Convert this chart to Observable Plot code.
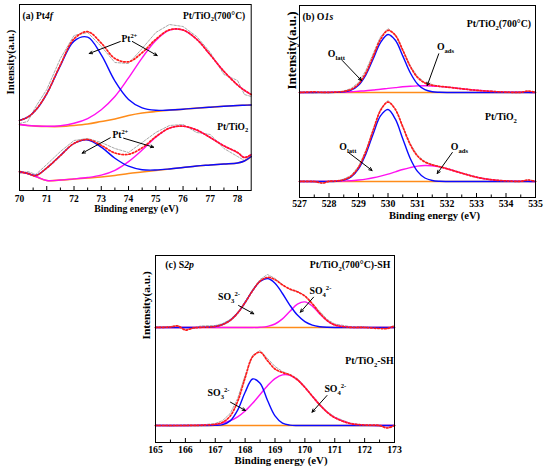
<!DOCTYPE html>
<html>
<head>
<meta charset="utf-8">
<script src="https://cdn.jsdelivr.net/npm/d3@7"></script>
<script src="https://cdn.jsdelivr.net/npm/@observablehq/plot@0.6"></script>
<style>
  html, body { margin: 0; padding: 0; background: #fff; }
  #wrap { position: relative; width: 550px; height: 469px; background: #fff; overflow: hidden; }
  #wrap > div { position: absolute; }
  #wrap svg { overflow: visible; font-family: 'Liberation Serif', 'Times New Roman', serif !important; }
  #wrap svg text, #wrap svg g { font-family: 'Liberation Serif', 'Times New Roman', serif !important; }
</style>
</head>
<body>
<div id="wrap">
  <div id="pa" style="left:0px;top:0px"></div>
  <div id="pb" style="left:275px;top:0px"></div>
  <div id="pc" style="left:130px;top:240px"></div>
</div>
<script>
// ---------- Panel (a) Pt4f ----------
const xA = [70,70.3,70.6,71,71.5,72,72.5,73,73.5,74,74.5,75,75.5,76,76.5,77,77.5,78,78.25,78.5];
const aBgUp   = [66,65,64.4,64,64,65,66.5,69,71.5,75,77.5,79,80.3,81.3,82.4,83.3,84.2,85,85.3,85.5];
const aBlueUp = [70,73.3,80.5,96.7,124.9,149.4,153.4,135.6,109.5,91.1,82.6,80.2,80.5,81.3,82.4,83.3,84.2,85,85.3,85.5];
const aMagUp  = [66,65,64.5,64.2,64.8,67.2,71.9,80.8,94,112.6,132.7,150,160.4,160.5,151.2,135.6,119.1,105.5,100.2,96];
const aFitUp  = [70,73.3,80.6,96.9,125.7,151.6,158.8,147.4,132,128.7,137.8,151.2,160.6,160.5,151.2,135.6,119.1,105.5,100.2,96];
const aRawUp  = [67,69,84,101,132,155,158,144,128,127,142,158,166,164,154,138,116,110,96,94];
const aBgLo   = [18.5,17,14,10,10.5,11.5,12.5,13.5,15,17,18.5,20,21.5,23,24.5,25.5,26.5,27.5,29.5,34];
const aBlueLo = [19,17,15,22.5,34.9,47,50.5,43.4,32.3,24.3,20.8,20.5,21.5,23,24.5,25.5,26.5,27.5,29.5,34];
const aMagLo  = [18.5,17,14,10,10.5,11.6,13,15.4,20.2,28.9,40.5,53.3,62.4,64.3,60.5,52.9,44.6,38,33,36];
const aFitLo  = [19,17,15,22.5,34.9,47.1,51,45.2,37.5,36.2,42.7,53.8,62.4,64.3,60.5,52.9,44.6,38,33,36];
const aRawLo  = [17,19,16,26,39,50,52,48,42,38,48,58,65,66,58,56,42,34,30,36];
const aMajor = [70,71,72,73,74,75,76,77,78];
const aMinor = [70.5,71.5,72.5,73.5,74.5,75.5,76.5,77.5];
const aLabStart = ["(a) Pt~{4f}"], aLabStartX = [70.11], aLabStartY = [175];
const aLabEnd = ["Pt/TiO_{2}(700°C)", "Pt/TiO_{2}"], aLabEndX = [78.28, 78.39], aLabEndY = [175, 64];
const aLabMid = ["Pt^{2+}", "Pt^{2+}"], aLabMidX = [74.03, 73.70], aLabMidY = [152, 56];
const aArX1 = [73.70, 74.14, 73.33, 73.82], aArY1 = [149, 149, 52.7, 52.3];
const aArX2 = [72.56, 75.05, 72.30, 74.92], aArY2 = [137, 135, 37.3, 43.3];

// ---------- Panel (b) O1s ----------
const xB = [527,527.5,527.8,528,528.25,528.5,528.75,529,529.25,529.5,529.75,530,530.25,530.5,530.75,531,531.25,531.5,531.75,532,532.5,533,533.5,534,534.5,534.75,535];
const bBgUp   = [105,105,105,105,105,105,105,105,105,105,105,105,105,105,105,105,105,105,105,105,105,105,105,105,105,105,105];
const bBlueUp = [105,105,105,105,105.1,105.6,107.3,112.2,122.7,138.8,155.1,163,157.2,141.6,125,113.5,107.8,105.7,105.2,105,105,105,105,105,105,105,105];
const bMagUp  = [105,105.1,105.1,105.2,105.3,105.5,105.8,106.3,106.8,107.5,108.2,109.1,109.9,110.7,111.3,111.6,111.7,111.5,111,110.4,108.7,107.2,106.1,105.4,105.2,105.1,105];
const bFitUp  = [105,105.6,105.1,105.2,105.4,106.1,108.1,113.5,124.5,141.3,158.3,167.1,162.1,147.3,131.3,120.1,114.5,112.2,111.2,110.4,108.7,107.2,106.1,105.4,105.2,106.5,105];
const bRawUp  = [105.5,104.5,105.5,105,105.5,106.5,109,115,127,144,161,169,163,148,132,121,115,113,111,110.5,109,107,106.5,105,105.5,106,105.5];
const bBgLo   = [16,16,16,16,16,16,16,16,16,16,16,16,16,16,16,16,16,16,16,16,16,16,16,16,16,16,16];
const bBlueLo = [16,16,16,16,16.3,17.3,20.6,28.6,43.6,63.8,81.8,88,78.3,58.8,39.3,26.1,19.5,17,16.2,16,16,16,16,16,16,16,16];
const bMagLo  = [16,16,16.1,16.1,16.2,16.5,16.8,17.5,18.4,19.7,21.4,23.4,25.7,28,29.9,31.4,32,31.7,30.6,28.8,24.3,20.3,17.8,16.6,16.2,16.1,16];
const bFitLo  = [16,16,14.5,16.2,16.5,17.8,21.4,30.1,46,67.5,87.2,95.4,88,70.8,53.2,41.5,35.5,32.7,30.8,28.8,24.3,20.3,17.8,16.6,16.2,17.5,16];
const bRawLo  = [16.5,15.5,14,16.5,16,18.5,22,31,47,68,89,97,89,71,54,42,36,33,31,29,24.5,20.5,18,16.5,16,17.5,16.5];
const bMajor = [527,528,529,530,531,532,533,534,535];
const bMinor = [527.5,528.5,529.5,530.5,531.5,532.5,533.5,534.5];
const bLabStart = ["(b) O~{1s}"], bLabStartX = [527.1], bLabStartY = [180.3];
const bLabEnd = ["Pt/TiO_{2}(700°C)", "Pt/TiO_{2}"], bLabEndX = [534.85, 534.37], bLabEndY = [173.7, 80.3];
const bLabMid = ["O_{latt}", "O_{ads}", "O_{latt}", "O_{ads}"], bLabMidX = [528.25, 531.95, 528.64, 532.42], bLabMidY = [143.7, 150.3, 51, 51];
const bArX1 = [528.45, 531.72, 528.66, 532.18], bArY1 = [137, 143.7, 45, 45];
const bArX2 = [529.1, 531.33, 529.46, 531.67], bArY2 = [117, 112, 27, 24];

// ---------- Panel (c) S2p ----------
const xC = [165,165.5,165.75,166,166.25,166.5,167,167.25,167.5,167.75,168,168.25,168.5,168.75,169,169.25,169.5,169.75,170,170.25,170.5,170.75,171,171.5,172,172.5,172.75,173];
const cBgUp   = [115,115,115,115,115,115,115,115,115,115,115,115,115,115,115,115,115,115,115,115,115,115,115,115,115,115,115,115];
const cBlueUp = [115,115,115,115,115,115.1,116,118,122.1,129.5,140,151.8,161,164,159.3,149,137.2,127.4,120.8,117.3,115.8,115.2,115,115,115,115,115,115];
const cMagUp  = [115,115,115,115,115,115,115,115,115,115,115,115,115.3,116.1,118.5,123.6,131.2,138.3,140.6,136.4,128.6,121.6,117.5,115.2,115,115,115,115];
const cFitUp  = [115,115.5,116.5,112.5,114.5,115.1,116,118,122.1,129.5,140,151.8,161.3,165.1,162.8,157.6,153.4,150.7,146.4,138.7,129.4,121.8,117.6,115.2,115,114,114,116.5];
const cRawUp  = [115.5,116,117,113,114,116.5,117,119,123,130,141,153,163,168,164,158,153,151,147,139,131,123,118.5,116,115.5,114.5,114,117];
const cBgLo   = [17,17,17,17,17,17,17,17,17,17,17,17,17,17,17,17,17,17,17,17,17,17,17,17,17,17,17,17];
const cBlueLo = [17,17,17,17,17,17,17.1,17.9,21.6,32.4,50.2,63.5,59.3,42,26.6,19.4,17.4,17,17,17,17,17,17,17,17,17,17,17];
const cMagLo  = [17,17,17,17,17.1,17.2,18.1,19.4,21.8,25.7,31.5,39.2,48,56.8,63.9,67.6,67.2,62.7,55.1,46.2,37.5,30.2,24.8,19.1,17.4,17,17,17];
const cFitLo  = [17,17,17,17,17.1,17.2,18.2,20.3,26.4,41.1,64.7,85.7,90.3,81.8,73.5,70,67.6,62.7,55.1,46.2,37.5,30.2,24.8,19.1,17.4,17,14.5,17];
const cRawLo  = [17.5,16.5,17,17.5,17,17.5,19,22,29,44,67,87,92,84,76,71,68,64,56,47,38.5,31,25.5,19.5,17.5,16.5,15,17.5];
const cMajor = [165,166,167,168,169,170,171,172,173];
const cMinor = [165.5,166.5,167.5,168.5,169.5,170.5,171.5,172.5];
const cLabStart = ["(c) S~{2p}"], cLabStartX = [165.33], cLabStartY = [178];
const cLabEnd = ["Pt/TiO_{2}(700°C)-SH", "Pt/TiO_{2}-SH"], cLabEndX = [172.86, 172.97], cLabEndY = [178, 82];
const cLabMid = ["SO_{3}^{2-}", "SO_{4}^{2-}", "SO_{3}^{2-}", "SO_{4}^{2-}"], cLabMidX = [167.46, 170.52, 167.11, 171.02], cLabMidY = [145.3, 152, 49.5, 53.7];
const cArX1 = [167.78, 170.29, 167.51, 170.74], cArY1 = [137, 145.3, 40.3, 47];
const cArX2 = [168.29, 169.85, 168.01, 170.24], cArY2 = [128.7, 130.3, 32, 30.3];

// ---------- drawing ----------
const FONT = "Liberation Serif";
const COL = {blue: "#0a0aff", mag: "#ff10f0", bg: "#ff8c1a", fit: "#ff1a1a", raw: "#a8a8a8"};

function spectrumMarks(xs, s) {
  return [
    Plot.line(s.raw, {x: xs, y: s.raw, stroke: COL.raw, strokeWidth: 1, strokeDasharray: "2.5 1.5"}),
    Plot.line(s.bg, {x: xs, y: s.bg, stroke: COL.bg, strokeWidth: 1.6, curve: "catmull-rom"}),
    Plot.line(s.mag, {x: xs, y: s.mag, stroke: COL.mag, strokeWidth: 1.4, curve: "catmull-rom"}),
    Plot.line(s.blue, {x: xs, y: s.blue, stroke: COL.blue, strokeWidth: 1.4, curve: "catmull-rom"}),
    Plot.line(s.fit, {x: xs, y: s.fit, stroke: COL.fit, strokeWidth: 1.7, strokeDasharray: "1.6 1.9", curve: "catmull-rom"})
  ];
}

function panel(o) {
  const H = o.height - o.mt - o.mb;
  const marks = [
    ...spectrumMarks(o.xs, o.upper),
    ...spectrumMarks(o.xs, o.lower),
    Plot.ruleX(o.major, {x: d => d, y1: 0, y2: 4, stroke: "black", strokeWidth: 1}),
    Plot.ruleX(o.minor, {x: d => d, y1: 0, y2: 2.5, stroke: "black", strokeWidth: 1}),
    Plot.axisX({ticks: o.major, tickSize: 0, tickPadding: o.tickPad, label: null, fontSize: o.tickFont, fontWeight: "bold", fontFamily: FONT, tickFormat: d => String(d)}),
    Plot.arrow(o.arX1, {x1: o.arX1, y1: o.arY1, x2: o.arX2, y2: o.arY2, stroke: "black", strokeWidth: 1, headLength: 5, headAngle: 50}),
    Plot.text(o.labStart, {x: o.labStartX, y: o.labStartY, text: d => d, textAnchor: "start", fontSize: o.labFont, fontWeight: "bold", fontFamily: FONT, fill: "black"}),
    Plot.text(o.labEnd, {x: o.labEndX, y: o.labEndY, text: d => d, textAnchor: "end", fontSize: o.labFont, fontWeight: "bold", fontFamily: FONT, fill: "black"}),
    Plot.text(o.labMid, {x: o.labMidX, y: o.labMidY, text: d => d, textAnchor: "middle", fontSize: o.labFont, fontWeight: "bold", fontFamily: FONT, fill: "black"}),
    Plot.text(["Binding energy (eV)"], {frameAnchor: "bottom", dy: o.titleDy, dx: o.titleDx, text: d => d, fontSize: o.titleFont, fontWeight: "bold", fontFamily: FONT, fill: "black"}),
    Plot.text(["Intensity(a.u.)"], {frameAnchor: "left", rotate: -90, dx: o.ylabDx, dy: o.ylabDy, text: d => d, fontSize: o.ylabFont, fontWeight: "bold", fontFamily: FONT, fill: "black"}),
    Plot.frame({stroke: "black", strokeWidth: 1})
  ];
  return Plot.plot({
    width: o.width, height: o.height,
    marginTop: o.mt, marginBottom: o.mb, marginLeft: o.ml, marginRight: o.mr,
    x: {domain: o.xDomain},
    y: {domain: [0, H], axis: null},
    style: {background: "transparent", color: "black", overflow: "visible"},
    marks
  });
}

function rich(svg) {
  svg.querySelectorAll("text").forEach(el => {
    const s = el.textContent;
    if (!/[_^~]\{/.test(s)) return;
    const fsEl = el.closest("[font-size]");
    const fs = fsEl ? parseFloat(fsEl.getAttribute("font-size")) : 10;
    el.textContent = "";
    let shift = 0;
    const re = /([_^~])\{([^}]*)\}|([^_^~]+|[_^~])/g;
    let m;
    while ((m = re.exec(s))) {
      const kind = m[1];
      const str = kind ? m[2] : m[3];
      const t = document.createElementNS("http://www.w3.org/2000/svg", "tspan");
      let target = 0;
      if (kind === "_") target = 0.3 * fs;
      else if (kind === "^") target = -0.42 * fs;
      if (target !== shift) { t.setAttribute("dy", target - shift); shift = target; }
      if (kind === "_" || kind === "^") t.setAttribute("font-size", (0.68 * fs).toFixed(2));
      if (kind === "~") t.setAttribute("font-style", "italic");
      t.textContent = str;
      el.appendChild(t);
    }
  });
}

const specs = [
  {id: "pa", xDomain: [70, 78.5], xs: xA, width: 260, height: 220, mt: 4, mb: 30, ml: 19, mr: 9.3,
   upper: {bg: aBgUp, blue: aBlueUp, mag: aMagUp, fit: aFitUp, raw: aRawUp},
   lower: {bg: aBgLo, blue: aBlueLo, mag: aMagLo, fit: aFitLo, raw: aRawLo},
   major: aMajor, minor: aMinor, tickPad: 5, tickFont: 9.5,
   labStart: aLabStart, labStartX: aLabStartX, labStartY: aLabStartY,
   labEnd: aLabEnd, labEndX: aLabEndX, labEndY: aLabEndY,
   labMid: aLabMid, labMidX: aLabMidX, labMidY: aLabMidY,
   arX1: aArX1, arY1: aArY1, arX2: aArX2, arY2: aArY2,
   labFont: 9.5, titleFont: 9.8, titleDx: 1, titleDy: 21.5, ylabFont: 10.8, ylabDx: -9, ylabDy: -3},
  {id: "pb", xDomain: [527, 535], xs: xB, width: 275, height: 225, mt: 5, mb: 28, ml: 24, mr: 15,
   upper: {bg: bBgUp, blue: bBlueUp, mag: bMagUp, fit: bFitUp, raw: bRawUp},
   lower: {bg: bBgLo, blue: bBlueLo, mag: bMagLo, fit: bFitLo, raw: bRawLo},
   major: bMajor, minor: bMinor, tickPad: 3, tickFont: 9.8,
   labStart: bLabStart, labStartX: bLabStartX, labStartY: bLabStartY,
   labEnd: bLabEnd, labEndX: bLabEndX, labEndY: bLabEndY,
   labMid: bLabMid, labMidX: bLabMidX, labMidY: bLabMidY,
   arX1: bArX1, arY1: bArY1, arX2: bArX2, arY2: bArY2,
   labFont: 9.8, titleFont: 10.6, titleDx: 17, titleDy: 21, ylabFont: 13, ylabDx: -8, ylabDy: -12},
  {id: "pc", xDomain: [165, 173], xs: xC, width: 290, height: 229, mt: 15, mb: 27, ml: 25, mr: 26,
   upper: {bg: cBgUp, blue: cBlueUp, mag: cMagUp, fit: cFitUp, raw: cRawUp},
   lower: {bg: cBgLo, blue: cBlueLo, mag: cMagLo, fit: cFitLo, raw: cRawLo},
   major: cMajor, minor: cMinor, tickPad: 3.5, tickFont: 9.8,
   labStart: cLabStart, labStartX: cLabStartX, labStartY: cLabStartY,
   labEnd: cLabEnd, labEndX: cLabEndX, labEndY: cLabEndY,
   labMid: cLabMid, labMidX: cLabMidX, labMidY: cLabMidY,
   arX1: cArX1, arY1: cArY1, arX2: cArX2, arY2: cArY2,
   labFont: 9.8, titleFont: 10.8, titleDx: 6, titleDy: 21.5, ylabFont: 11.4, ylabDx: -9, ylabDy: -9.5}
];

for (const s of specs) {
  const svg = panel(s);
  document.getElementById(s.id).appendChild(svg);
  rich(svg);
}
</script>
</body>
</html>
